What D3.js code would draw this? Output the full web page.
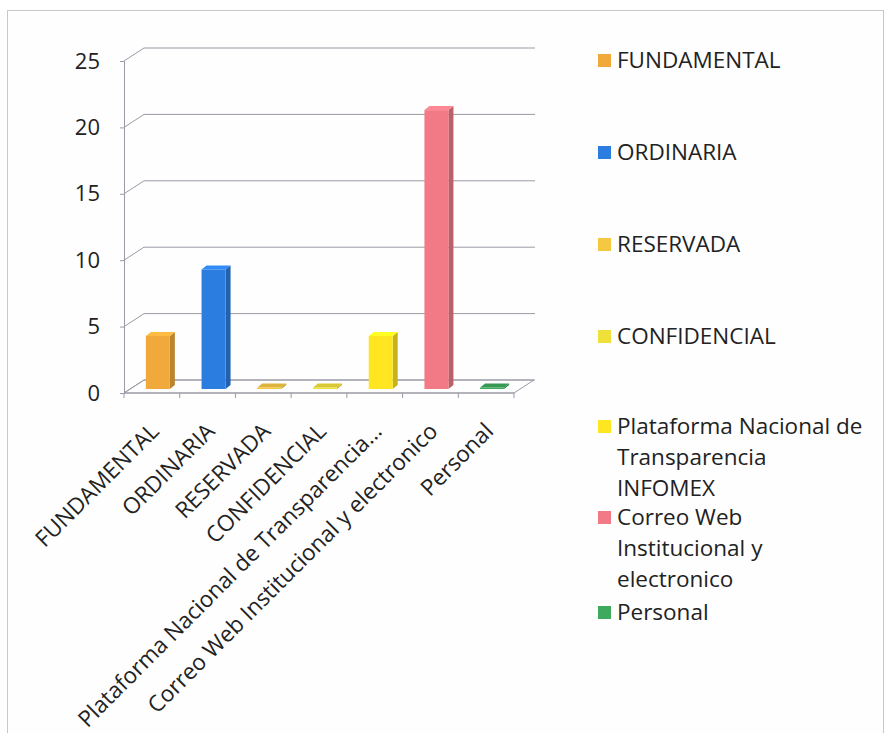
<!DOCTYPE html>
<html>
<head>
<meta charset="utf-8">
<script src="https://cdn.jsdelivr.net/npm/d3@7"></script>
<style>
  body { margin: 0; background: #fff; }
  svg text { font-family: "Open Sans", sans-serif; fill: #222; }
</style>
</head>
<body>
<div id="main"></div>
<script>
// data
const categories = ['FUNDAMENTAL', 'ORDINARIA', 'RESERVADA', 'CONFIDENCIAL',
    'Plataforma Nacional de Transparencia INFOMEX', 'Correo Web Institucional y electronico', 'Personal'];
const axisLabels = ['FUNDAMENTAL', 'ORDINARIA', 'RESERVADA', 'CONFIDENCIAL',
    'Plataforma Nacional de Transparencia...', 'Correo Web Institucional y electronico', 'Personal'];
const legendLines = [['FUNDAMENTAL'], ['ORDINARIA'], ['RESERVADA'], ['CONFIDENCIAL'],
    ['Plataforma Nacional de', 'Transparencia', 'INFOMEX'], ['Correo Web', 'Institucional y', 'electronico'], ['Personal']];
const values = [4, 9, 0, 0, 4, 21, 0];
const colors = ['#F2A93B', '#2B7DE0', '#F5C842', '#F0E03A', '#FFE620', '#F27A86', '#3DAA5E'];
const yTicks = [0, 5, 10, 15, 20, 25];

const W = 886, H = 733;
const depthX = 20, depthY = -13;   // 3d offset of the back wall
const fs = 22.5;                   // font size for all texts

const svg = d3.select('#main').append('svg')
    .attr('width', W).attr('height', H);

svg.append('rect')      // outer frame
    .attr('x', 7.5).attr('y', 10.5)
    .attr('width', 876).attr('height', 740)
    .attr('fill', '#fefefe').attr('stroke', '#c8c8c8');

const x = d3.scaleBand().domain(categories).range([124, 514]);
const y = d3.scaleLinear().domain([0, 25]).range([393, 61]);

const grid = svg.append('g');

// floor
grid.append('polygon')
    .attr('points', [[124, y(0)], [514, y(0)], [514 + depthX, y(0) + depthY], [124 + depthX, y(0) + depthY]].join(' '))
    .attr('fill', 'none').attr('stroke', '#9a9aa6');

// back wall gridlines + left wall diagonals
yTicks.forEach(t => {
    grid.append('line')
        .attr('x1', 124 + depthX).attr('x2', 514 + depthX + 1)
        .attr('y1', y(t) + depthY).attr('y2', y(t) + depthY)
        .attr('stroke', '#9a9aa6');
    grid.append('line')
        .attr('x1', 124).attr('x2', 124 + depthX)
        .attr('y1', y(t)).attr('y2', y(t) + depthY)
        .attr('stroke', '#9a9aa6');
});

// y axis
const yAxis = d3.axisLeft(y).tickValues(yTicks).tickSize(4).tickPadding(20);
svg.append('g')
    .attr('transform', 'translate(124,0)')
    .call(yAxis)
    .call(g => g.selectAll('line, path').attr('stroke', '#9a9aa6'))
    .call(g => g.selectAll('text').attr('font-size', 22).attr('fill', '#222')
        .style('font-family', '"Open Sans", sans-serif'));

// x axis ticks at category boundaries
const xAxisG = svg.append('g').attr('transform', 'translate(0,' + y(0) + ')');
xAxisG.append('line').attr('x1', 124).attr('x2', 514).attr('stroke', '#9a9aa6');
xAxisG.selectAll('line.tk')
    .data(categories.concat(['end']))
    .enter().append('line')
    .attr('class', 'tk')
    .attr('x1', d => d === 'end' ? 514 : x(d))
    .attr('x2', d => d === 'end' ? 514 : x(d))
    .attr('y1', 0).attr('y2', 5)
    .attr('stroke', '#9a9aa6');

// x labels, rotated
xAxisG.selectAll('text')
    .data(axisLabels)
    .enter().append('text')
    .attr('transform', (d, i) => 'translate(' + (x(categories[i]) + x.bandwidth() / 2 + 3) + ',34) rotate(-45)')
    .attr('text-anchor', 'end')
    .attr('dy', '0.35em')
    .attr('font-size', fs)
    .text(d => d);

// 3d bars
const bw = 24, fx = 6, fy = -4, dx = 5, dy = -4;
const bars = svg.append('g').selectAll('g')
    .data(values)
    .enter().append('g');

bars.each(function (v, i) {
    const g = d3.select(this);
    const c = d3.color(colors[i]);
    const x0 = x(categories[i]) + (x.bandwidth() - bw) / 2 + fx;
    const yb = y(0) + fy;
    const yt = Math.min(y(v) + fy, yb - 1.5);
    g.append('polygon')     // side
        .attr('points', [[x0 + bw, yb], [x0 + bw + dx, yb + dy], [x0 + bw + dx, yt + dy], [x0 + bw, yt]].join(' '))
        .attr('fill', c.darker(0.7));
    g.append('polygon')     // top
        .attr('points', [[x0, yt], [x0 + bw, yt], [x0 + bw + dx, yt + dy], [x0 + dx, yt + dy]].join(' '))
        .attr('fill', v === 0 ? c.darker(0.3) : c.brighter(0.3));
    g.append('rect')        // front
        .attr('x', x0).attr('y', yt)
        .attr('width', bw).attr('height', yb - yt)
        .attr('fill', c);
});

// legend
const legendTop = [60, 152, 244, 336, 426, 517, 612];
const legend = svg.append('g');
legendLines.forEach((lines, i) => {
    legend.append('rect')
        .attr('x', 598).attr('y', legendTop[i] - 6)
        .attr('width', 13).attr('height', 13)
        .attr('fill', colors[i]);
    const t = legend.append('text')
        .attr('x', 617).attr('y', legendTop[i])
        .attr('font-size', fs);
    lines.forEach((ln, j) => {
        t.append('tspan').attr('x', 617).attr('dy', j === 0 ? '0.35em' : 31).text(ln);
    });
});
</script>
</body>
</html>
